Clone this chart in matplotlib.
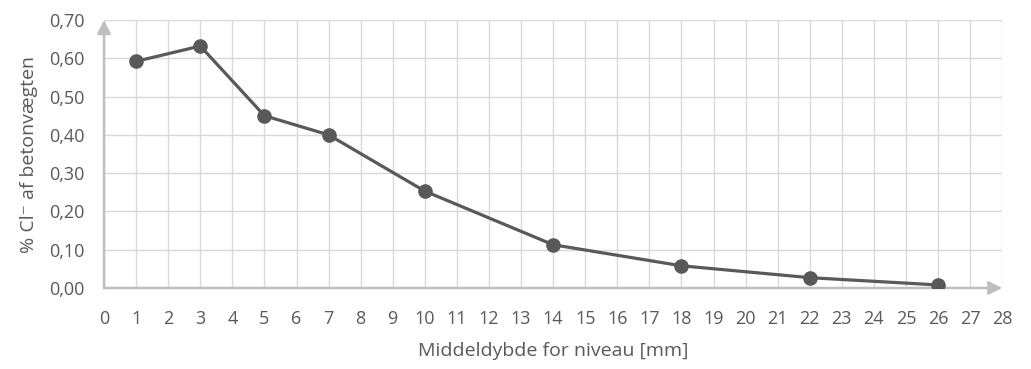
import matplotlib.pyplot as plt
from matplotlib.ticker import MultipleLocator, FuncFormatter

plt.rcParams['font.family'] = ['Open Sans', 'DejaVu Sans']

# middeldybde [mm] og klorid-indhold
depth = [1, 3, 5, 7, 10, 14, 18, 22, 26]
chloride = [0.592, 0.632, 0.450, 0.400, 0.253, 0.113, 0.058, 0.027, 0.008]

txt = '#595959'
fig = plt.figure(figsize=(10.31, 3.69), dpi=100)
ax = fig.add_axes([0.1009, 0.2195, 0.8712, 0.7263])

ax.plot(depth, chloride, color='#595959', lw=2.3, marker='o', ms=9.5, zorder=3)

ax.set_xlim(0, 28)
ax.set_ylim(0, 0.70)
ax.xaxis.set_major_locator(MultipleLocator(1))
ax.yaxis.set_major_locator(MultipleLocator(0.1))
ax.yaxis.set_major_formatter(FuncFormatter(lambda v, p: f'{v:.2f}'.replace('.', ',')))
ax.grid(True, color='#d9d9d9', lw=1)
ax.set_axisbelow(True)
for s in ax.spines.values():
    s.set_visible(False)
ax.tick_params(length=0, labelsize=13, colors=txt)
ax.tick_params(axis='x', pad=16)
ax.tick_params(axis='y', pad=14)

# akser med pile
ap = dict(arrowstyle='-|>', color='#bfbfbf', lw=1.8, mutation_scale=20, shrinkA=0, shrinkB=0)
ax.annotate('', xy=(1.0, 0), xytext=(0, 0), xycoords='axes fraction', arrowprops=ap, zorder=2)
ax.annotate('', xy=(0, 1.0), xytext=(0, 0), xycoords='axes fraction', arrowprops=ap, zorder=2)

ax.set_xlabel('Middeldybde for niveau [mm]', fontsize=14, color=txt, labelpad=10)
ax.set_ylabel('% Cl⁻ af betonvægten', fontsize=14, color=txt, labelpad=8)

fig.savefig('out.png', dpi=100)
